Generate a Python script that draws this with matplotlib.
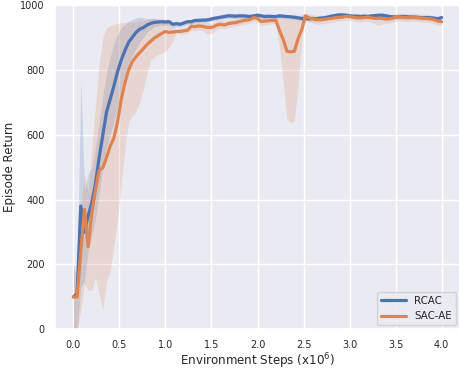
import matplotlib
matplotlib.use("Agg")
import matplotlib.pyplot as plt
import numpy as np
import seaborn as sns

# environment steps (x1e6), one sample every 0.04
steps = np.round(np.arange(101) * 0.04, 2)

rcac_mean = [100, 110, 380, 300, 350, 390, 450, 530, 600, 670,
             710, 750, 795, 830, 860, 885, 900, 915, 925, 930,
             938, 943, 946, 947, 948, 947, 948, 940, 942, 940,
             944, 948, 948, 952, 952, 953, 953, 955, 958, 960,
             962, 964, 966, 966, 965, 966, 966, 965, 964, 966,
             968, 966, 964, 965, 964, 964, 966, 965, 964, 963,
             962, 960, 958, 958, 957, 958, 957, 959, 960, 962,
             965, 967, 969, 969, 968, 966, 965, 965, 964, 965,
             964, 966, 967, 968, 968, 966, 964, 963, 963, 964,
             964, 963, 962, 962, 961, 960, 961, 960, 959, 957,
             961]
rcac_lo = [-40, 0, 130, 150, 240, 290, 340, 420, 500, 560,
           600, 640, 690, 740, 790, 820, 845, 865, 885, 900,
           915, 925, 932, 935, 937, 936, 938, 930, 933, 931,
           936, 940, 941, 945, 945, 946, 946, 948, 950, 952,
           954, 956, 958, 958, 957, 958, 958, 957, 956, 959,
           961, 959, 957, 958, 957, 957, 959, 958, 957, 956,
           955, 953, 951, 951, 950, 951, 950, 952, 953, 955,
           958, 960, 962, 962, 961, 959, 958, 958, 957, 958,
           957, 959, 960, 961, 961, 959, 957, 956, 956, 957,
           957, 956, 955, 955, 954, 953, 954, 953, 952, 950,
           955]
rcac_hi = [190, 160, 770, 430, 480, 500, 560, 640, 720, 790,
           840, 880, 910, 930, 940, 950, 955, 960, 962, 960,
           958, 958, 958, 957, 957, 956, 956, 948, 950, 948,
           952, 955, 955, 958, 959, 960, 960, 962, 965, 967,
           970, 972, 974, 974, 973, 974, 974, 973, 972, 973,
           975, 973, 971, 972, 971, 971, 973, 972, 971, 970,
           969, 967, 965, 965, 964, 965, 964, 966, 967, 969,
           972, 974, 976, 976, 975, 973, 972, 972, 971, 972,
           971, 973, 974, 975, 975, 973, 971, 970, 970, 971,
           971, 970, 969, 969, 968, 967, 968, 967, 966, 964,
           967]

sacae_mean = [100, 100, 240, 370, 255, 360, 430, 490, 498, 530,
              565, 590, 640, 710, 760, 800, 825, 840, 853, 865,
              878, 888, 898, 905, 912, 918, 915, 916, 918, 918,
              920, 922, 934, 933, 935, 934, 931, 930, 932, 938,
              940, 938, 942, 944, 945, 948, 951, 953, 955, 961,
              958, 949, 950, 951, 952, 952, 920, 893, 857, 855,
              857, 895, 923, 966, 960, 957, 954, 954, 955, 957,
              958, 960, 961, 962, 965, 964, 962, 960, 960, 961,
              962, 960, 958, 959, 958, 956, 957, 960, 964, 962,
              961, 960, 962, 961, 960, 959, 958, 957, 954, 950,
              948]
sacae_lo = [-20, -10, 60, 140, 120, 120, 160, 110, 60, 150,
            180, 260, 340, 450, 560, 640, 660, 670, 700, 740,
            790, 830, 840, 848, 852, 856, 870, 890, 915, 910,
            910, 912, 922, 920, 922, 920, 912, 910, 915, 925,
            928, 926, 930, 932, 934, 937, 940, 942, 944, 950,
            945, 936, 938, 940, 941, 945, 866, 755, 645, 638,
            640, 745, 893, 955, 948, 944, 940, 941, 942, 944,
            946, 948, 950, 951, 954, 953, 950, 948, 948, 949,
            950, 946, 940, 938, 942, 943, 944, 948, 952, 950,
            949, 948, 950, 949, 948, 947, 946, 945, 942, 938,
            937]
sacae_hi = [200, 190, 380, 480, 420, 560, 690, 820, 900, 930,
            935, 940, 943, 944, 945, 946, 946, 948, 950, 952,
            955, 958, 958, 956, 955, 952, 945, 930, 925, 926,
            930, 932, 946, 946, 948, 948, 946, 944, 945, 951,
            952, 950, 954, 956, 956, 959, 962, 964, 966, 972,
            970, 962, 962, 962, 963, 966, 962, 960, 958, 958,
            960, 964, 970, 976, 972, 970, 968, 967, 968, 970,
            970, 972, 972, 973, 976, 975, 974, 972, 972, 973,
            974, 973, 972, 972, 970, 968, 968, 972, 975, 974,
            973, 972, 974, 973, 972, 971, 970, 969, 966, 962,
            959]

labels = ["RCAC", "SAC-AE"]
colors = ["#4c72b0", "#dd8452"]

sns.set_theme(style="darkgrid")
plt.rcParams["font.family"] = ["DejaVu Sans"]

fig = plt.figure(figsize=(4.6, 3.73), dpi=100)
ax = fig.add_axes([0.1196, 0.117, 0.8804, 0.870])

series = [(rcac_mean, rcac_lo, rcac_hi), (sacae_mean, sacae_lo, sacae_hi)]
for (m, lo, hi), lab, c in zip(series, labels, colors):
    ax.fill_between(steps, lo, hi, color=c, alpha=0.2, linewidth=0)
    ax.plot(steps, m, color=c, lw=2.3, label=lab)

ax.set_xlim(-0.2, 4.2)
ax.set_ylim(0, 1000)
ax.set_xticks(np.arange(0, 4.01, 0.5))
ax.set_yticks(np.arange(0, 1001, 200))
ax.tick_params(labelsize=7, pad=1.5)
ax.set_xlabel("Environment Steps (x10$^6$)", fontsize=8.6, labelpad=1.5)
ax.set_ylabel("Episode Return", fontsize=8.6, labelpad=3)
ax.legend(loc="lower right", fontsize=7.4, handlelength=2.4, borderaxespad=0.4)

fig.savefig("out.png", dpi=100)
